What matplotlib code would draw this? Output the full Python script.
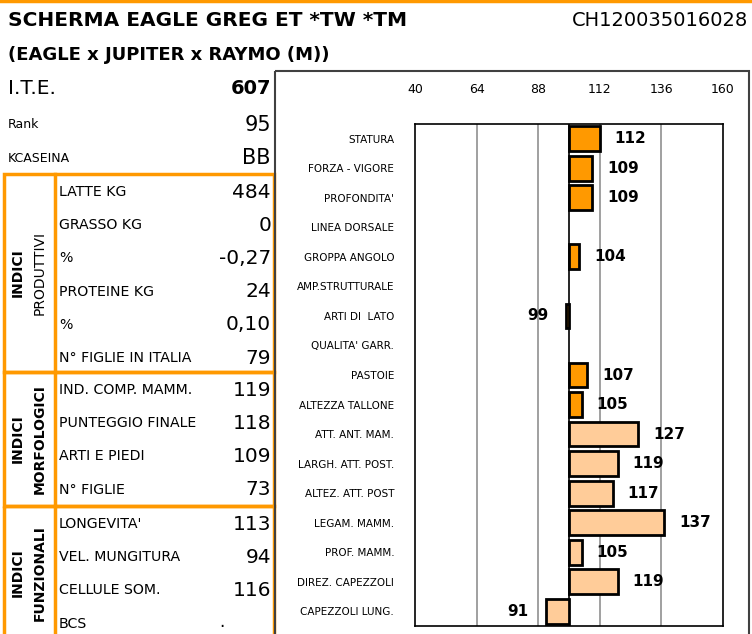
import matplotlib.pyplot as plt
from matplotlib.patches import Rectangle

ORANGE = "#FF9900"
PEACH = "#FFCC99"
FONT = "DejaVu Sans"

# --- data -------------------------------------------------------------
TITLE = "SCHERMA EAGLE GREG ET *TW *TM"
CODE = "CH120035016028"
PEDIGREE = "(EAGLE x JUPITER x RAYMO (M))"

HEAD_LABELS = ["I.T.E.", "Rank", "KCASEINA"]
HEAD_VALUES = ["607", "95", "BB"]

PROD_LABELS = ["LATTE KG", "GRASSO KG", "%", "PROTEINE KG", "%", "N° FIGLIE IN ITALIA"]
PROD_VALUES = ["484", "0", "-0,27", "24", "0,10", "79"]

MORF_LABELS = ["IND. COMP. MAMM.", "PUNTEGGIO FINALE", "ARTI E PIEDI", "N° FIGLIE"]
MORF_VALUES = ["119", "118", "109", "73"]

FUNZ_LABELS = ["LONGEVITA'", "VEL. MUNGITURA", "CELLULE SOM.", "BCS"]
FUNZ_VALUES = ["113", "94", "116", "."]

TRAITS = ["STATURA", "FORZA - VIGORE", "PROFONDITA'", "LINEA DORSALE",
          "GROPPA ANGOLO", "AMP.STRUTTURALE", "ARTI DI  LATO", "QUALITA' GARR.",
          "PASTOIE", "ALTEZZA TALLONE", "ATT. ANT. MAM.", "LARGH. ATT. POST.",
          "ALTEZ. ATT. POST", "LEGAM. MAMM.", "PROF. MAMM.", "DIREZ. CAPEZZOLI",
          "CAPEZZOLI LUNG."]
TRAIT_VALUES = [112, 109, 109, None, 104, None, 99, None, 107, 105,
                127, 119, 117, 137, 105, 119, 91]
TRAIT_GROUP = ["body"] * 10 + ["udder"] * 7
AXIS_TICKS = [40, 64, 88, 112, 136, 160]
BASE = 100

W, H = 752, 634
fig = plt.figure(figsize=(W / 100, H / 100), dpi=100)

# background axes in pixel coordinates (y down)
bg = fig.add_axes([0, 0, 1, 1])
bg.set_xlim(0, W)
bg.set_ylim(H, 0)
bg.axis("off")

bg.plot([0, W], [1, 1], color=ORANGE, lw=2.5)
bg.text(8, 21, TITLE, fontsize=14.5, fontweight="bold", family=FONT, va="center")
bg.text(748, 21, CODE, fontsize=14, family=FONT, va="center", ha="right")
bg.text(8, 55, PEDIGREE, fontsize=13, fontweight="bold", family=FONT, va="center")

# header rows
bg.text(8, 88, HEAD_LABELS[0], fontsize=14.5, family=FONT, va="center")
bg.text(271, 88, HEAD_VALUES[0], fontsize=14, fontweight="bold", family=FONT,
        va="center", ha="right")
for lab, val, y in zip(HEAD_LABELS[1:], HEAD_VALUES[1:], [125, 158]):
    bg.text(8, y, lab, fontsize=9, family=FONT, va="center")
    bg.text(271, y, val, fontsize=15, family=FONT, va="center", ha="right")

# orange boxes with the three sections
sections = [
    (174, 372, PROD_LABELS, PROD_VALUES, "PRODUTTIVI", "normal"),
    (372, 506, MORF_LABELS, MORF_VALUES, "MORFOLOGICI", "bold"),
    (506, 660, FUNZ_LABELS, FUNZ_VALUES, "FUNZIONALI", "bold"),
]
for top, bottom, labels, values, name, weight in sections:
    bg.add_patch(Rectangle((4, top), 270, bottom - top, fill=False,
                           edgecolor=ORANGE, lw=2.5, clip_on=False))
    bg.plot([55, 55], [top, bottom], color=ORANGE, lw=2.5)
    yc = (top + min(bottom, 640)) / 2
    bg.text(18, yc, "INDICI", rotation=90, fontsize=10, fontweight="bold",
            family=FONT, ha="center", va="center")
    bg.text(40, yc, name, rotation=90, fontsize=10, fontweight=weight,
            family=FONT, ha="center", va="center")
    for i, (lab, val) in enumerate(zip(labels, values)):
        y = top + 18 + i * 33.2
        bg.text(59, y, lab, fontsize=10.2, family=FONT, va="center")
        if val == ".":
            # empty value: only a dot low in the cell
            bg.text(222, y - 2, val, fontsize=12, family=FONT, va="center", ha="center")
        else:
            bg.text(271, y, val, fontsize=14.5, family=FONT, va="center", ha="right")

# outer frame of the chart
bg.add_patch(Rectangle((275, 71), 474, 600, fill=False, edgecolor="#404040",
                       lw=1.5, clip_on=False))

# --- bar chart --------------------------------------------------------
ax = fig.add_axes([415 / W, 1 - 626 / H, 308 / W, 502 / H])
ys = list(range(len(TRAITS)))
for y, v, g in zip(ys, TRAIT_VALUES, TRAIT_GROUP):
    if v is None:
        continue
    color = ORANGE if g == "body" else PEACH
    ax.barh(y, v - BASE, left=BASE, height=0.84, color=color,
            edgecolor="black", linewidth=2, zorder=3)
    tx = v + 12 if v >= BASE else v - 11
    ax.text(tx, y, str(v), fontsize=11, fontweight="bold", family=FONT,
            ha="center", va="center", zorder=4)

ax.set_xlim(AXIS_TICKS[0], AXIS_TICKS[-1])
ax.set_ylim(len(TRAITS) - 0.5, -0.5)
ax.set_xticks(AXIS_TICKS)
ax.xaxis.tick_top()
ax.tick_params(axis="x", length=0, pad=20, labelsize=9)
ax.set_yticks(ys)
ax.set_yticklabels(TRAITS, fontsize=7.5, family=FONT)
ax.tick_params(axis="y", length=0, pad=15)
for t in AXIS_TICKS[1:-1]:
    ax.axvline(t, color="#909090", lw=1.2, zorder=1)
ax.axvline(BASE, color="black", lw=1.2, zorder=2)
for s in ax.spines.values():
    s.set_color("black")
    s.set_linewidth(1.2)

fig.savefig("out.png", dpi=100)
